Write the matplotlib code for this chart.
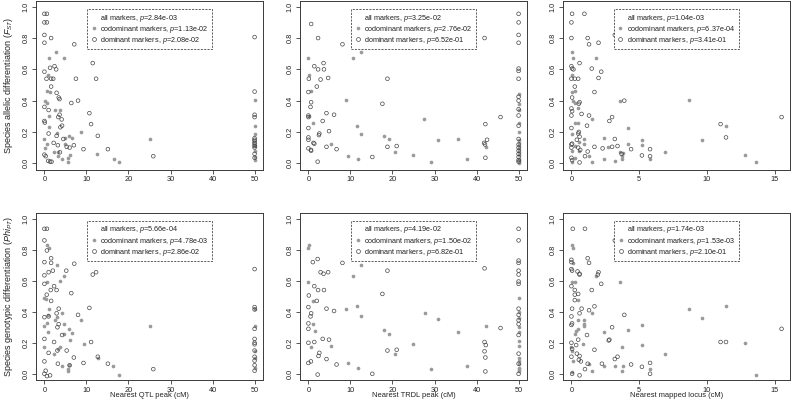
import matplotlib
matplotlib.use('Agg')
import matplotlib.pyplot as plt
from matplotlib.lines import Line2D

plt.rcParams['font.family'] = ['Liberation Sans', 'DejaVu Sans']
plt.rcParams['mathtext.fontset'] = 'custom'
plt.rcParams['mathtext.rm'] = 'Liberation Sans'
plt.rcParams['mathtext.it'] = 'Liberation Sans:italic'
plt.rcParams['mathtext.bf'] = 'Liberation Sans:bold'

# ---------------- data ----------------
# Panel 1: nearest QTL peak vs F_ST
p1_dom_x = [0, 0.6, 0, 0.6, 0, 0, 1.6, 7.1, 1.35, 2.4, 2.8, 0, 0.5, 1.6, 2.1, 7.5, 12.3, 11.5,
            1.6, 2.9, 3.4, 3.6, 8.0, 6.4, 0, 1.0, 3.6, 3.3, 4.1, 10.7, 0, 0.1, 3.8, 4.2, 11.1,
            1.0, 2.9, 12.7, 4.5, 2.2, 3.2, 5.3, 6.0, 7.0, 9.3, 15.1, 25.9, 0, 0.3, 0.9, 1.35, 1.7, 3.7,
            50, 50, 50, 50, 50, 50, 50, 50, 50, 50, 50, 50, 50]
p1_dom_y = [0.955, 0.955, 0.9, 0.9, 0.82, 0.77, 0.80, 0.76, 0.61, 0.62, 0.60, 0.585, 0.54, 0.54, 0.54, 0.54, 0.54, 0.64,
            0.49, 0.45, 0.42, 0.41, 0.40, 0.385, 0.36, 0.34, 0.31, 0.295, 0.28, 0.32, 0.27, 0.26, 0.23, 0.24, 0.25,
            0.19, 0.175, 0.175, 0.155, 0.13, 0.115, 0.105, 0.10, 0.115, 0.09, 0.09, 0.045, 0.055, 0.045, 0.015, 0.01, 0.01, 0.07,
            0.806, 0.458, 0.31, 0.295, 0.16, 0.15, 0.14, 0.13, 0.12, 0.11, 0.10, 0.06, 0.035]
p1_cod_x = [2.7, 1.0, 4.7, 0.9, 0.55, 1.3, 0.15, 0.5, 2.5, 3.8, 1.2, 1.2, 8.6, 5.9, 6.6, 4.8,
            2.9, 0, 0.6, 0.2, 4.8, 2.3, 3.2, 3.3, 4.2, 5.7, 6.1, 5.6, 12.6, 16.5, 17.8, 25.0,
            50, 50, 50, 50, 50, 50, 50]
p1_cod_y = [0.71, 0.67, 0.675, 0.565, 0.46, 0.455, 0.395, 0.385, 0.34, 0.34, 0.305, 0.23, 0.2, 0.175, 0.16, 0.16,
            0.195, 0.155, 0.125, 0.10, 0.12, 0.07, 0.07, 0.047, 0.03, 0.035, 0.055, 0.005, 0.06, 0.025, 0.01, 0.155,
            0.405, 0.24, 0.19, 0.11, 0.08, 0.04, 0.02]

# Panel 2: nearest TRDL peak vs F_ST
p2_dom_x = [0.65, 2.3, 8.1, 41.9, 3.6, 1.4, 2.3, 3.7, 0.1, 2.9, 4.7, 18.8, 2.0, 0, 0.65, 0.5, 17.6,
            0, 0, 4.3, 6.1, 3.4, 0, 42.1, 45.7, 4.9, 2.6, 2.5, 0, 0, 1.2, 1.4, 4.3, 6.7, 18.8, 21,
            0, 0.6, 0.65, 2.2, 41.8, 42.0, 42.5, 42.1, 15.2,
            50, 50, 50, 50, 50, 50, 50, 50, 50, 50, 50, 50, 50, 50, 50, 50, 50, 50, 50, 50]
p2_dom_y = [0.89, 0.80, 0.76, 0.80, 0.64, 0.62, 0.60, 0.60, 0.54, 0.535, 0.545, 0.54, 0.49, 0.455, 0.39, 0.36, 0.38,
            0.305, 0.295, 0.32, 0.31, 0.27, 0.225, 0.25, 0.295, 0.205, 0.19, 0.18, 0.165, 0.15, 0.13, 0.125, 0.105, 0.09, 0.105, 0.11,
            0.095, 0.085, 0.08, 0.01, 0.13, 0.12, 0.15, 0.035, 0.04,
            0.955, 0.9, 0.82, 0.77, 0.605, 0.59, 0.54, 0.425, 0.40, 0.345, 0.305, 0.24, 0.155, 0.12, 0.1, 0.08, 0.06, 0.04, 0.02, 0.01]
p2_cod_x = [0, 0.1, 10.5, 12.4, 8.9, 1.05, 11.6, 12.6, 18, 19.2, 20.5, 24.8, 27.5, 30.8, 35.5, 37.8,
            29.1, 9.3, 11.7, 5.3, 42.3, 0.1, 0.6,
            50, 50, 50, 50, 50, 50, 50, 50, 50, 50, 50, 50, 50, 50, 50]
p2_cod_y = [0.67, 0.565, 0.675, 0.71, 0.405, 0.255, 0.24, 0.19, 0.175, 0.155, 0.07, 0.055, 0.285, 0.15, 0.155, 0.03,
            0.005, 0.045, 0.03, 0.12, 0.105, 0.30, 0.46,
            0.44, 0.38, 0.34, 0.26, 0.2, 0.15, 0.13, 0.11, 0.09, 0.07, 0.05, 0.03, 0.02, 0.01, 0.0]

# Panel 3: nearest mapped locus vs F_ST
p3_dom_x = [0.05, 0.96, 0, 0, 1.2, 3.2, 1.3, 2.0, 0.6, 0, 0.05, 0.15, 1.5, 2.2, 0, 0.25, 0.5, 2.0, 0.25, 1.7,
            0.05, 0.55, 0.6, 3.9, 0, 0.05, 0.75, 1.3, 0, 3.0, 2.8, 1.15, 0, 0.55, 0.5, 0.6, 0.4, 0, 0.05, 0,
            0.5, 0.65, 1.7, 2.3, 3.0, 3.2, 3.4, 3.7, 4.4, 1.0, 1.2, 0.6, 5.8, 5.8, 5.2, 0, 0.05, 11, 11.4, 15.5]
p3_dom_y = [0.955, 0.955, 0.9, 0.80, 0.80, 0.82, 0.76, 0.77, 0.64, 0.62, 0.605, 0.60, 0.605, 0.585, 0.54, 0.54, 0.54, 0.545, 0.49, 0.455,
            0.42, 0.38, 0.39, 0.40, 0.35, 0.333, 0.315, 0.305, 0.305, 0.295, 0.27, 0.24, 0.225, 0.2, 0.19, 0.17, 0.15, 0.12, 0.125, 0.10,
            0.10, 0.085, 0.105, 0.095, 0.105, 0.155, 0.11, 0.06, 0.09, 0.045, 0.075, 0.005, 0.09, 0.045, 0.05, 0.035, 0.02, 0.25, 0.165, 0.295]
p3_cod_x = [0.05, 0.1, 1.8, 0.05, 0.05, 0.25, 0.1, 0.3, 0.5, 1.5, 3.6, 0.25, 0.5, 0.05, 4.2, 8.7, 11.4, 9.6, 12.8, 13.6,
            2.4, 0.95, 0.95, 0.55, 0.25, 4.2, 5.2, 5.2, 3.55, 3.8, 3.7, 3.7, 2.7, 2.4, 3.2, 1.5, 5.8, 6.9, 1.3, 0.05,
            0.3, 0.05, 0.55]
p3_cod_y = [0.71, 0.67, 0.675, 0.565, 0.455, 0.46, 0.40, 0.385, 0.35, 0.285, 0.40, 0.255, 0.255, 0.19, 0.225, 0.405, 0.24, 0.15, 0.055, 0.01,
            0.16, 0.155, 0.12, 0.135, 0.11, 0.12, 0.15, 0.115, 0.075, 0.065, 0.045, 0.025, 0.105, 0.03, 0.015, 0.005, 0.03, 0.07, 0.045, 0.08,
            0.035, 0.005, 0.08]

# Panel 4: nearest QTL peak vs PhiPT
p4_dom_x = [0, 0.6, 0, 0.6, 1.6, 0, 1.6, 7.1, 1.0, 2.0, 5.2, 11.5, 12.3, 0, 0, 2.3, 1.5, 2.9, 6.4, 0.55,
            1.6, 3.4, 10.7, 2.9, 8, 1.0, 0, 3.4, 3.1, 4.2, 0, 2.3, 11.1, 3.1, 5.3, 1.0, 12.7, 7, 3.2, 6,
            9.3, 15.1, 25.9, 0, 0.3, 0, 0.6, 1.35,
            50, 50, 50, 50, 50, 50, 50, 50, 50, 50, 50, 50]
p4_dom_y = [0.935, 0.935, 0.86, 0.795, 0.745, 0.72, 0.715, 0.71, 0.655, 0.665, 0.665, 0.64, 0.655, 0.635, 0.58, 0.565, 0.54, 0.54, 0.52, 0.51,
            0.47, 0.42, 0.425, 0.39, 0.38, 0.37, 0.365, 0.32, 0.30, 0.25, 0.225, 0.205, 0.205, 0.15, 0.15, 0.135, 0.11, 0.105, 0.065, 0.055,
            0.07, 0.065, 0.03, 0.08, 0.02, 0.0, -0.015, -0.01,
            0.675, 0.43, 0.415, 0.29, 0.225, 0.2, 0.19, 0.15, 0.11, 0.085, 0.055, 0.02]
p4_cod_x = [0.7, 1.0, 2.9, 0.55, 3.8, 4.6, 0, 0.4, 1.1, 0.5, 0, 0.95, 2.5, 2.9, 4.3, 0.9, 4.7, 5.9, 8.6, 6.5,
            4.7, 0, 2.3, 3.2, 3.8, 6.1, 9.4, 4.2, 5.7, 5.6, 5.9, 12.7, 16.3, 17.8, 25,
            50, 50, 50, 50, 50]
p4_cod_y = [0.83, 0.81, 0.70, 0.595, 0.60, 0.63, 0.49, 0.48, 0.415, 0.325, 0.31, 0.38, 0.35, 0.365, 0.39, 0.27, 0.32, 0.29, 0.345, 0.265,
            0.255, 0.175, 0.125, 0.16, 0.175, 0.215, 0.195, 0.05, 0.03, 0.02, 0.055, 0.10, 0.05, -0.005, 0.305,
            0.42, 0.31, 0.15, 0.1, 0.04]

# Panel 5: nearest TRDL peak vs PhiPT
p5_dom_x = [1.05, 2.2, 8.1, 2.9, 3.6, 4.7, 18.8, 41.9, 1.4, 3.7, 2.3, 0.1, 2.0, 17.6, 0, 4.3, 6.1, 0.65, 0.5, 0,
            0, 45.7, 3.4, 4.9, 0, 1.4, 41.9, 42.2, 41.9, 42.1, 18.8, 21, 2.6, 2.4, 4.3, 6.7, 0.6, 0, 2.2, 15.2, 42.1,
            50, 50, 50, 50, 50, 50, 50, 50, 50, 50, 50, 50, 50, 50, 50, 50]
p5_dom_y = [0.72, 0.74, 0.715, 0.655, 0.645, 0.655, 0.665, 0.68, 0.565, 0.54, 0.54, 0.505, 0.47, 0.515, 0.43, 0.42, 0.405, 0.39, 0.37, 0.325,
            0.29, 0.295, 0.225, 0.22, 0.20, 0.205, 0.205, 0.185, 0.145, 0.105, 0.15, 0.155, 0.135, 0.115, 0.095, 0.06, 0.08, 0.07, -0.005, 0.0, 0.015,
            0.935, 0.86, 0.73, 0.715, 0.665, 0.64, 0.595, 0.58, 0.42, 0.38, 0.345, 0.32, 0.25, 0.13, 0.065, 0.0]
p5_cod_x = [0, 0.1, 0, 10.5, 12.4, 1.05, 8.9, 11.6, 12.6, 1, 1.5, 0.65, 5.3, 18, 19.2, 27.7, 30.8, 35.5, 24.8, 20.5,
            9.3, 11.7, 29.1, 37.8, 42.3,
            50, 50, 50, 50, 50, 50, 50, 50, 50, 50, 50, 50, 50]
p5_cod_y = [0.81, 0.83, 0.595, 0.63, 0.70, 0.47, 0.415, 0.435, 0.37, 0.32, 0.275, 0.175, 0.18, 0.285, 0.255, 0.39, 0.355, 0.27, 0.195, 0.125,
            0.07, 0.04, 0.03, 0.05, 0.31,
            0.49, 0.4, 0.36, 0.3, 0.27, 0.21, 0.18, 0.1, 0.08, 0.06, 0.04, 0.03, 0.02]

# Panel 6: nearest mapped locus vs PhiPT
p6_dom_x = [0.1, 1.0, 3.2, 1.2, 1.3, 0, 0, 0, 0.05, 0.45, 0.6, 0.6, 2.0, 1.95, 2.2, 1.5, 0, 0.25, 0.25, 0.5,
            0.25, 0.05, 0.75, 1.7, 1.3, 0.6, 3.9, 0, 0.05, 0, 3.0, 2.8, 2.75, 1.15, 0.5, 0, 0.35, 0.05, 1.7, 0,
            0.4, 0.6, 0.55, 0.7, 3.2, 3.4, 1.2, 2.25, 1.0, 4.4, 5.2, 5.8, 5.8, 0.6, 0.05, 11, 11.4, 15.5]
p6_dom_y = [0.935, 0.935, 0.86, 0.745, 0.715, 0.735, 0.72, 0.675, 0.665, 0.66, 0.645, 0.64, 0.655, 0.64, 0.58, 0.54, 0.565, 0.54, 0.51, 0.515,
            0.475, 0.42, 0.42, 0.435, 0.41, 0.39, 0.38, 0.37, 0.325, 0.315, 0.30, 0.22, 0.215, 0.25, 0.22, 0.20, 0.185, 0.16, 0.155, 0.11,
            0.13, 0.115, 0.09, 0.08, 0.095, 0.11, 0.065, 0.065, 0.03, 0.06, 0.045, 0.07, 0.0, -0.01, 0.0, 0.205, 0.205, 0.29]
p6_cod_x = [0.05, 0.1, 0.1, 0.25, 0.05, 3.6, 1.8, 0.5, 1.5, 0.95, 0.95, 0.95, 0.5, 0.5, 0.35, 0.25, 0, 0.05, 0.85, 2.4,
            4.2, 5.2, 3.7, 5.2, 6.9, 8.7, 9.6, 11.4, 12.8, 13.6, 1.5, 2.4, 3.2, 3.7, 3.8, 5.8, 1.3, 0.15, 0.05]
p6_cod_y = [0.83, 0.81, 0.715, 0.595, 0.59, 0.595, 0.63, 0.475, 0.39, 0.345, 0.32, 0.305, 0.35, 0.29, 0.275, 0.255, 0.175, 0.145, 0.195, 0.27,
            0.285, 0.315, 0.175, 0.185, 0.125, 0.415, 0.357, 0.435, 0.20, -0.005, 0.02, 0.05, 0.05, 0.02, 0.05, 0.03, 0.065, 0.08, 0.01]

p_all = ['2.84e-03', '3.25e-02', '1.04e-03', '5.66e-04', '4.19e-02', '1.74e-03']
p_cod = ['1.13e-02', '2.76e-02', '6.37e-04', '4.78e-03', '1.50e-02', '1.53e-03']
p_dom = ['2.08e-02', '6.52e-01', '3.41e-01', '2.86e-02', '6.82e-01', '2.10e-01']

x_labels = ['Nearest QTL peak (cM)', 'Nearest TRDL peak (cM)', 'Nearest mapped locus (cM)']
y_labels = ['Species allelic differentiation ($F_{ST}$)',
            'Species genotypic differentiation ($Phi_{PT}$)']

dom_x = [p1_dom_x, p2_dom_x, p3_dom_x, p4_dom_x, p5_dom_x, p6_dom_x]
dom_y = [p1_dom_y, p2_dom_y, p3_dom_y, p4_dom_y, p5_dom_y, p6_dom_y]
cod_x = [p1_cod_x, p2_cod_x, p3_cod_x, p4_cod_x, p5_cod_x, p6_cod_x]
cod_y = [p1_cod_y, p2_cod_y, p3_cod_y, p4_cod_y, p5_cod_y, p6_cod_y]

# ---------------- layout ----------------
W, H = 791, 408
fig = plt.figure(figsize=(W / 100, H / 100), dpi=100)

col_left = [36, 300, 563]
col_w = 227
row_top = [0.5, 212.5]
row_bot = [169.5, 380]

AX_COL = '#3a3a3a'
COD_COL = '#9a9a9a'
DOM_COL = '#474747'
TXT_COL = '#222222'

xlims = [(-2, 52), (-2, 52), (-0.62, 16.12)]
xticks = [[0, 10, 20, 30, 40, 50], [0, 10, 20, 30, 40, 50], [0, 5, 10, 15]]
yticks = [0.0, 0.2, 0.4, 0.6, 0.8, 1.0]

for i in range(6):
    r, c = divmod(i, 3)
    left = col_left[c] / W
    bottom = (H - row_bot[r]) / H
    height = (row_bot[r] - row_top[r]) / H
    ax = fig.add_axes([left, bottom, col_w / W, height])

    ax.scatter(cod_x[i], cod_y[i], s=7, c=COD_COL, linewidths=0, zorder=2)
    ax.scatter(dom_x[i], dom_y[i], s=7, facecolors='none', edgecolors=DOM_COL,
               linewidths=0.5, zorder=3)

    ax.set_xlim(*xlims[c])
    ax.set_ylim(-0.04, 1.04)
    ax.set_xticks(xticks[c])
    ax.set_xticklabels([str(v) for v in xticks[c]])
    ax.set_yticks(yticks)
    ax.set_yticklabels([f'{v:.1f}' for v in yticks], rotation=90, va='center')

    for sp in ax.spines.values():
        sp.set_color(AX_COL)
        sp.set_linewidth(0.7)
    ax.tick_params(direction='out', length=3, width=0.6, color=AX_COL,
                   labelsize=5.3, pad=1.7, labelcolor=TXT_COL)

    handles = [Line2D([], [], ls='none', marker=''),
               Line2D([], [], ls='none', marker='o', ms=2.6, mfc=COD_COL, mec='none'),
               Line2D([], [], ls='none', marker='o', ms=2.8, mfc='none', mec=DOM_COL, mew=0.5)]
    labels = [f'all markers, $p$={p_all[i]}',
              f'codominant markers, $p$={p_cod[i]}',
              f'dominant markers, $p$={p_dom[i]}']
    leg = ax.legend(handles, labels, loc='upper center', bbox_to_anchor=(0.5, 0.95),
                    fontsize=5.2, frameon=True, fancybox=False, edgecolor='#444444',
                    framealpha=1, borderpad=0.5, handlelength=0.9, handletextpad=0.5,
                    labelspacing=0.02, borderaxespad=0)
    fr = leg.get_frame()
    fr.set_linestyle((0, (2.5, 1.5)))
    fr.set_linewidth(0.6)
    for t in leg.get_texts():
        t.set_color(TXT_COL)

    if c == 0:
        ax.set_ylabel(y_labels[r], fontsize=6.5, color=TXT_COL, va='center')
        ax.yaxis.set_label_coords(-0.123, 0.5)
    if r == 1:
        ax.set_xlabel(x_labels[c], fontsize=5.4, color=TXT_COL)
        ax.xaxis.set_label_coords(0.5, -0.095)
        ax.xaxis.label.set_va('center')

fig.savefig('out.png', dpi=100)
